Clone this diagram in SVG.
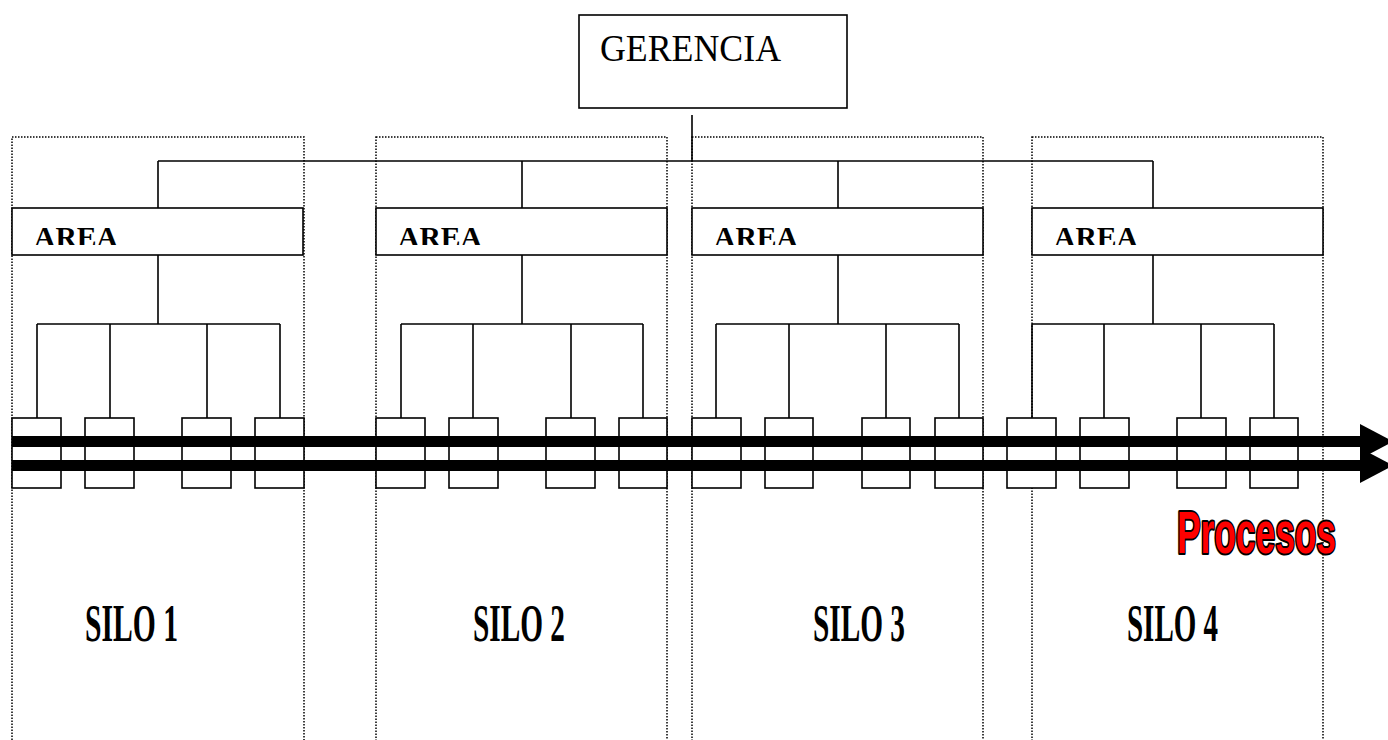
<svg xmlns="http://www.w3.org/2000/svg" width="1388" height="740" viewBox="0 0 1388 740">
<style>
.silo{fill:none;stroke:#000;stroke-width:1.5;stroke-dasharray:1.5 1.5}
.box{fill:#fff;stroke:#000;stroke-width:1.6}
.ln{fill:none;stroke:#000;stroke-width:1.6}
.band{fill:#000}
.area{font-family:"Liberation Serif","Times New Roman",serif;font-weight:bold;font-size:29px;fill:#000}
.silot{font-family:"Liberation Serif","Times New Roman",serif;font-weight:bold;font-size:53px;fill:#000}
.ger{font-family:"Liberation Serif","Times New Roman",serif;font-size:37px;fill:#000}
.proc{font-family:"Liberation Sans",Arial,sans-serif;font-weight:bold;font-size:59px;fill:#ff0000;stroke:#000;stroke-width:4;paint-order:stroke;stroke-linejoin:round}
</style>
<defs>
<clipPath id="c1"><rect x="12" y="208" width="292" height="37"/></clipPath>
<clipPath id="c2"><rect x="376" y="208" width="292" height="37"/></clipPath>
<clipPath id="c3"><rect x="692" y="208" width="292" height="37"/></clipPath>
<clipPath id="c4"><rect x="1032" y="208" width="292" height="37"/></clipPath>
</defs>
<rect width="1388" height="740" fill="#fff"/>

<g id="silos">
<rect class="silo" x="12" y="137" width="292" height="620"/>
<rect class="silo" x="376" y="137" width="291" height="620"/>
<rect class="silo" x="692" y="137" width="291" height="620"/>
<rect class="silo" x="1032" y="137" width="291" height="620"/>
</g>

<g id="connectors">
<path class="ln" d="M692 115V161M158 161H1153M158 161V208M522 161V208M838 161V208M1153 161V208"/>
<path class="ln" d="M158 255V324M37 324H280M37 324V418M110 324V418M207 324V418M280 324V418"/>
<path class="ln" d="M522 255V324M401 324H643M401 324V418M473 324V418M571 324V418M643 324V418"/>
<path class="ln" d="M838 255V324M716 324H959M716 324V418M789 324V418M886 324V418M959 324V418"/>
<path class="ln" d="M1153 255V324M1032 324H1274M1032 324V418M1104 324V418M1201 324V418M1274 324V418"/>
</g>

<g id="gerencia">
<rect class="box" x="579" y="15" width="268" height="93"/>
<text class="ger" x="600" y="61" textLength="181" lengthAdjust="spacingAndGlyphs">GERENCIA</text>
</g>

<g id="area1">
<rect class="box" x="12" y="208" width="291" height="47"/>
<text class="area" x="34" y="247" textLength="84" lengthAdjust="spacingAndGlyphs" clip-path="url(#c1)">AREA</text>
</g>
<g id="area2">
<rect class="box" x="376" y="208" width="291" height="47"/>
<text class="area" x="398" y="247" textLength="84" lengthAdjust="spacingAndGlyphs" clip-path="url(#c2)">AREA</text>
</g>
<g id="area3">
<rect class="box" x="692" y="208" width="291" height="47"/>
<text class="area" x="714" y="247" textLength="84" lengthAdjust="spacingAndGlyphs" clip-path="url(#c3)">AREA</text>
</g>
<g id="area4">
<rect class="box" x="1032" y="208" width="291" height="47"/>
<text class="area" x="1054" y="247" textLength="84" lengthAdjust="spacingAndGlyphs" clip-path="url(#c4)">AREA</text>
</g>

<g id="units1">
<rect class="box" x="12" y="418" width="49" height="70"/>
<rect class="box" x="85" y="418" width="49" height="70"/>
<rect class="box" x="182" y="418" width="49" height="70"/>
<rect class="box" x="255" y="418" width="49" height="70"/>
</g>
<g id="units2">
<rect class="box" x="376" y="418" width="49" height="70"/>
<rect class="box" x="449" y="418" width="49" height="70"/>
<rect class="box" x="546" y="418" width="49" height="70"/>
<rect class="box" x="619" y="418" width="48" height="70"/>
</g>
<g id="units3">
<rect class="box" x="692" y="418" width="49" height="70"/>
<rect class="box" x="765" y="418" width="48" height="70"/>
<rect class="box" x="862" y="418" width="48" height="70"/>
<rect class="box" x="935" y="418" width="48" height="70"/>
</g>
<g id="units4">
<rect class="box" x="1007" y="418" width="49" height="70"/>
<rect class="box" x="1080" y="418" width="49" height="70"/>
<rect class="box" x="1177" y="418" width="49" height="70"/>
<rect class="box" x="1250" y="418" width="48" height="70"/>
</g>

<g id="process-arrows">
<rect class="band" x="12" y="436" width="1350" height="11"/>
<rect class="band" x="12" y="460" width="1350" height="11"/>
<polygon class="band" points="1360,424 1393,441.5 1360,459"/>
<polygon class="band" points="1360,448 1393,465.5 1360,483"/>
</g>

<g id="procesos">
<text class="proc" x="1177" y="553" textLength="159" lengthAdjust="spacingAndGlyphs">Procesos</text>
</g>

<g id="silo-labels">
<text class="silot" x="85" y="641" textLength="93" lengthAdjust="spacingAndGlyphs">SILO 1</text>
<text class="silot" x="473" y="641" textLength="92" lengthAdjust="spacingAndGlyphs">SILO 2</text>
<text class="silot" x="813" y="641" textLength="92" lengthAdjust="spacingAndGlyphs">SILO 3</text>
<text class="silot" x="1127" y="641" textLength="91" lengthAdjust="spacingAndGlyphs">SILO 4</text>
</g>
</svg>
